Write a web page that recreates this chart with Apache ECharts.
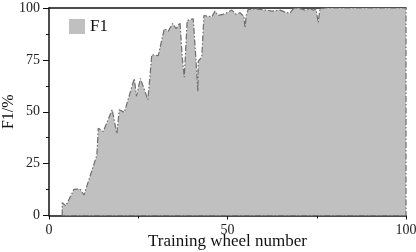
<!DOCTYPE html>
<html><head><meta charset="utf-8">
<script src="https://cdn.jsdelivr.net/npm/echarts@6/dist/echarts.min.js"></script>
<style>html,body{margin:0;padding:0;background:#fff}#c{width:416px;height:252px}</style>
</head><body><div id="c"></div>
<script>
// Training wheel number (x) and F1 (%) values
const epochs = [3.7,3.7,4.7,5.0,7.0,8.7,9.8,13.4,13.8,15.2,17.7,19.0,19.7,21.1,23.2,23.9,24.5,25.6,27.7,28.8,30.6,32.3,33.4,34.6,35.6,36.7,37.3,37.9,38.7,40.4,41.1,41.7,41.8,42.8,43.4,45.6,46.5,47.4,48.7,49.8,51.2,52.4,53.5,54.6,54.9,55.3,55.8,58.5,60.5,62.5,64.7,66.1,67.5,68.3,69.7,71.7,73.1,74.2,74.8,75.4,75.9,77.3,80,90,100];
const f1 = [0,6.2,4.6,4.5,12.6,12.8,9.9,29,42,40.5,51,39.4,51,49.7,62,66,57.5,66,55.8,77.5,77,90,88.8,92.5,90,93,76.7,66.7,94,94.8,76.7,59.8,74.3,76.4,96.4,95.7,98.5,96.4,96.9,97.7,99,97,97.7,96,90.4,97,99.3,99.5,99,98.5,99,98,97.5,99.5,100,99,99.5,99,99.5,93,99.5,100,100,100,100];
const yTicks = [0,25,50,75,100];
const xTicks = [0,50,100];
const seriesName = 'F1';

const pts = epochs.map((x,i)=>[x,f1[i]]);
// close the polygon along the baseline
pts.push([epochs[epochs.length-1],0]);
pts.push([epochs[0],0]);

const font = 'Liberation Serif';
const chart = echarts.init(document.getElementById('c'));
chart.setOption({
  animation:false,
  grid:{left:49,right:10,top:8,bottom:36.5,containLabel:false,outerBoundsMode:'none'},
  legend:{
    data:[{name:seriesName,icon:'rect',itemStyle:{color:'#c0c0c0',borderWidth:0}}],
    left:64,top:13,itemWidth:16,itemHeight:15,itemGap:8,
    textStyle:{fontFamily:font,fontSize:17,color:'#111'}
  },
  xAxis:[{
    type:'value',min:0,max:100,interval:50,
    name:'Training wheel number',nameLocation:'middle',nameGap:18,nameMoveOverlap:false,
    nameTextStyle:{fontFamily:font,fontSize:17,color:'#111'},
    axisLine:{lineStyle:{color:'#111',width:1.5}},
    axisTick:{show:true,length:4,lineStyle:{color:'#111'}},
    minorTick:{show:true,splitNumber:2,length:3,lineStyle:{color:'#111'}},
    axisLabel:{fontFamily:font,fontSize:14,color:'#222',margin:8,
      formatter:v=>xTicks.includes(v)?String(v):''},
    splitLine:{show:false}
  },{
    type:'value',position:'top',min:0,max:100,
    axisLine:{show:true,onZero:false,lineStyle:{color:'#111',width:1.5}},
    axisTick:{show:false},axisLabel:{show:false},splitLine:{show:false}
  }],
  yAxis:{
    type:'value',min:0,max:100,interval:25,
    name:'F1/%',nameLocation:'middle',nameGap:32,nameRotate:90,nameMoveOverlap:false,
    nameTextStyle:{fontFamily:font,fontSize:16,color:'#111'},
    axisLine:{show:true,lineStyle:{color:'#111',width:1.5}},
    axisTick:{show:true,length:6,lineStyle:{color:'#111'}},
    minorTick:{show:true,splitNumber:2,length:3,lineStyle:{color:'#111'}},
    axisLabel:{fontFamily:font,fontSize:14,color:'#222',margin:9,
      formatter:v=>yTicks.includes(v)?String(v):''},
    splitLine:{show:false}
  },
  series:[{
    name:seriesName,type:'line',data:pts,symbol:'none',
    lineStyle:{color:'#6e6e6e',width:1.2,type:[6,2,1.5,2]},
    itemStyle:{color:'#c0c0c0'},
    areaStyle:{color:'#c0c0c0',opacity:1},
    z:1
  }]
});
</script></body></html>
